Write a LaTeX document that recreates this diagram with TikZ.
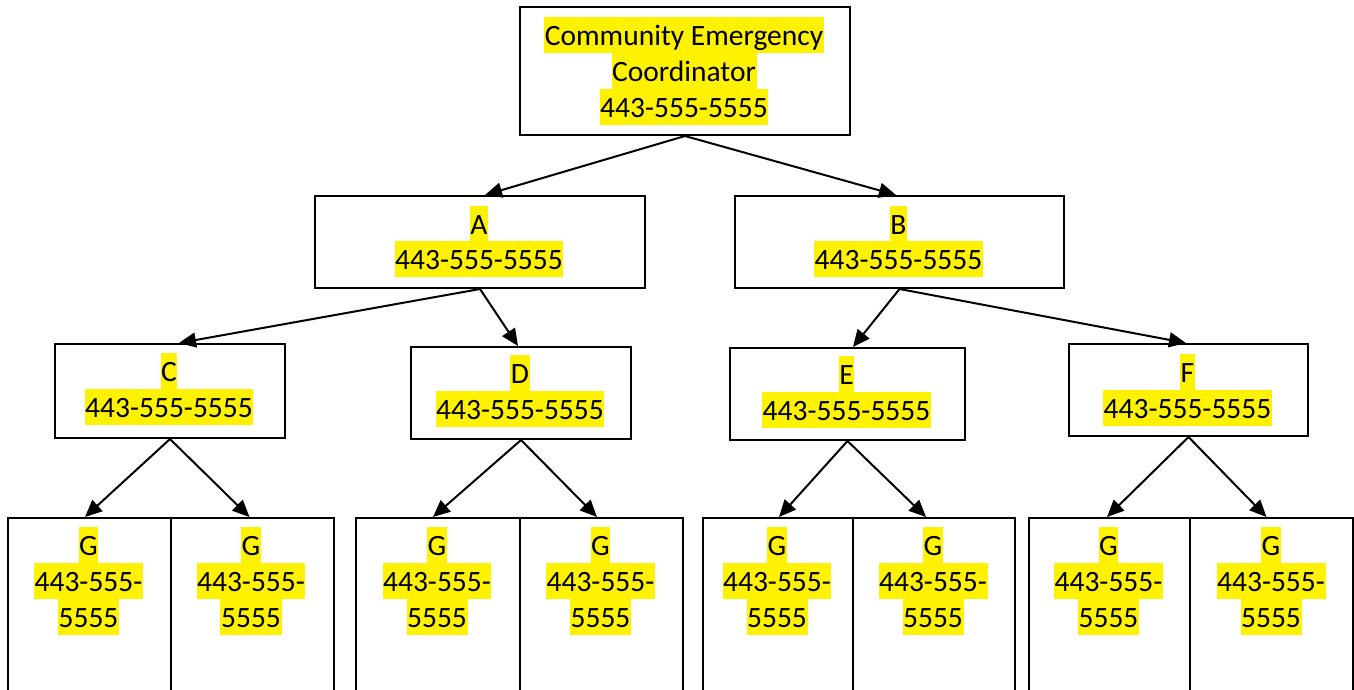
\documentclass[tikz,border=0pt]{standalone}
\usepackage{fontspec}
\setmainfont{Carlito}
\usetikzlibrary{arrows.meta}
\begin{document}
\begin{tikzpicture}[x=1pt,y=-1pt,
  box/.style={draw=black, line width=2pt, inner sep=0pt, anchor=north west},
  hl/.style={fill=yellow, inner xsep=0.6pt, inner ysep=0pt, text height=28pt, text depth=8pt, anchor=base, font=\fontsize{29.5}{36}\selectfont},
  arr/.style={line width=2pt, -{Triangle[length=17pt,width=15pt]}}]
\useasboundingbox (0,0) rectangle (1354,689);
\fill[white] (0,0) rectangle (1354,689);
% boxes
\node[box, minimum width=330pt, minimum height=128pt] (top) at (519,6) {};
\node[box, minimum width=330pt, minimum height=92pt] (A) at (314,195) {};
\node[box, minimum width=329pt, minimum height=92pt] (B) at (734,195) {};
\node[box, minimum width=230pt, minimum height=94pt] (C) at (54,343) {};
\node[box, minimum width=220pt, minimum height=92pt] (D) at (410,346) {};
\node[box, minimum width=235pt, minimum height=92pt] (E) at (729,347) {};
\node[box, minimum width=239pt, minimum height=92pt] (F) at (1068,343) {};
\node[box, minimum width=163pt, minimum height=174pt] (G1) at (7,517) {};
\node[box, minimum width=163pt, minimum height=174pt] (G2) at (170,517) {};
\node[box, minimum width=164pt, minimum height=174pt] (G3) at (355,517) {};
\node[box, minimum width=163pt, minimum height=174pt] (G4) at (519,517) {};
\node[box, minimum width=150pt, minimum height=174pt] (G5) at (702,517) {};
\node[box, minimum width=162pt, minimum height=174pt] (G6) at (852,517) {};
\node[box, minimum width=161pt, minimum height=174pt] (G7) at (1028,517) {};
\node[box, minimum width=163pt, minimum height=174pt] (G8) at (1189,517) {};
% texts
\node[hl] (t1) at (684,45) {Community Emergency};
\node[hl] (t2) at (684,81) {Coordinator};
\node[hl] (t3) at (684,117) {443-555-5555};
\node[hl] (a1) at (479,234) {A};
\node[hl] (a2) at (479,269) {443-555-5555};
\node[hl] (b1) at (898.5,234) {B};
\node[hl] (b2) at (898.5,269) {443-555-5555};
\node[hl] (c1) at (169,381) {C};
\node[hl] (c2) at (169,417) {443-555-5555};
\node[hl] (d1) at (520,383) {D};
\node[hl] (d2) at (520,419) {443-555-5555};
\node[hl] (e1) at (846.5,384) {E};
\node[hl] (e2) at (846.5,420) {443-555-5555};
\node[hl] (f1) at (1187.5,382) {F};
\node[hl] (f2) at (1187.5,418) {443-555-5555};
\foreach \n/\x in {1/88.5,2/251,3/437,4/600.5,5/777,6/933,7/1108.5,8/1271}{
  \node[hl] (g\n a) at (\x,555) {G};
  \node[hl] (g\n b) at (\x,591) {443-555-};
  \node[hl] (g\n c) at (\x,627) {5555};
}
% arrows
\draw[arr] (top.south) -- ([xshift=5pt]A.north);
\draw[arr] (top.south) -- ([xshift=-3.5pt]B.north);
\draw[arr] (A.south) -- ([xshift=9pt]C.north);
\draw[arr] (A.south) -- ([xshift=-3pt]D.north);
\draw[arr] (B.south) -- ([xshift=5.5pt]E.north);
\draw[arr] (B.south) -- ([xshift=-2.5pt]F.north);
\draw[arr] (C.south) -- ([xshift=-4.5pt]G1.north);
\draw[arr] (C.south) -- ([xshift=-3pt]G2.north);
\draw[arr] (D.south) -- ([xshift=-5pt]G3.north);
\draw[arr] (D.south) -- ([xshift=-4.5pt]G4.north);
\draw[arr] (E.south) -- ([xshift=1pt]G5.north);
\draw[arr] (E.south) -- ([xshift=-8pt]G6.north);
\draw[arr] (F.south) -- ([xshift=-2.5pt]G7.north);
\draw[arr] (F.south) -- ([xshift=-5pt]G8.north);
\end{tikzpicture}
\end{document}
